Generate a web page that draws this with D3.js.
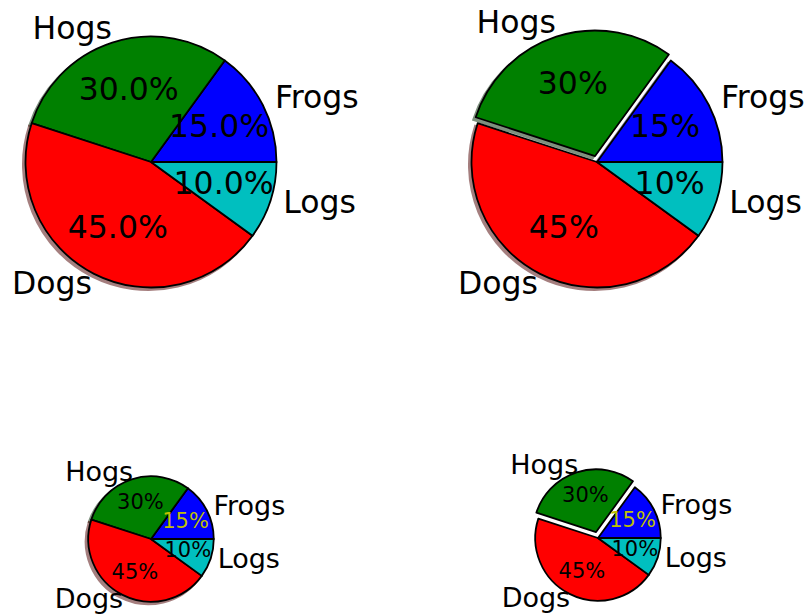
<!DOCTYPE html>
<html>
<head>
<meta charset="utf-8">
<script src="https://cdn.jsdelivr.net/npm/d3@7"></script>
<style>
  html, body { margin: 0; padding: 0; background: #fff; }
  text { font-family: "DejaVu Sans", sans-serif; }
</style>
</head>
<body>
<div id="chart"></div>
<script>
// data
var labels = ["Frogs", "Hogs", "Dogs", "Logs"];
var fracs = [15, 30, 45, 10];
var colors = ["#0000ff", "#008000", "#ff0000", "#00bfbf"];
var explodeHogs = [0, 0.05, 0, 0];
var noExplode = [0, 0, 0, 0];

// panels (layout only)
var panels = [
  {cx: 151, cy: 162, radius: 1, explode: noExplode, shadow: true, fmt: function(p){ return p.toFixed(1) + "%"; }, labelSize: 31.5, pctSize: 31.5, firstPctColor: "#000"},
  {cx: 597, cy: 162, radius: 1, explode: explodeHogs, shadow: true, fmt: function(p){ return p.toFixed(0) + "%"; }, labelSize: 31.5, pctSize: 31.5, firstPctColor: "#000"},
  {cx: 151, cy: 539, radius: 0.5, explode: noExplode, shadow: true, fmt: function(p){ return p.toFixed(0) + "%"; }, labelSize: 27, pctSize: 21, firstPctColor: "#bfbf00"},
  {cx: 598, cy: 538, radius: 0.5, explode: explodeHogs, shadow: false, fmt: function(p){ return p.toFixed(0) + "%"; }, labelSize: 27, pctSize: 21, firstPctColor: "#bfbf00"}
];

var w = 811, h = 614;

// data units -> pixels
var unit = d3.scaleLinear().domain([0, 1]).range([0, 125.5]);

var svg = d3.select("#chart").append("svg")
  .attr("width", w)
  .attr("height", h);

// counterclockwise from 3 o'clock, like matplotlib
var pie = d3.pie()
  .sort(null)
  .startAngle(Math.PI / 2)
  .endAngle(Math.PI / 2 - 2 * Math.PI);

var total = d3.sum(fracs);

panels.forEach(function(p) {
  var r = unit(p.radius);
  var arcs = pie(fracs);
  var arc = d3.arc().innerRadius(0).outerRadius(r);

  arcs.forEach(function(a, i) {
    var m = (a.startAngle + a.endAngle) / 2;
    var e = unit(p.explode[i]);
    a.ox = e * Math.sin(m);
    a.oy = -e * Math.cos(m);
    a.mid = m;
  });

  var g = svg.append("g").attr("transform", "translate(" + p.cx + "," + p.cy + ")");

  //shadows under everything
  if (p.shadow) {
    var sh = unit(0.02);
    g.selectAll("path.shadow")
      .data(arcs)
      .enter()
      .append("path")
      .attr("class", "shadow")
      .attr("d", arc)
      .attr("transform", function(d) { return "translate(" + (d.ox - sh) + "," + (d.oy + sh) + ")"; })
      .style("fill", function(d, i) { var c = d3.rgb(colors[i]); return d3.rgb(c.r * 0.3, c.g * 0.3, c.b * 0.3); })
      .style("stroke", function(d, i) { var c = d3.rgb(colors[i]); return d3.rgb(c.r * 0.3, c.g * 0.3, c.b * 0.3); })
      .style("stroke-width", 2)
      .style("opacity", 0.5);
  }

  g.selectAll("path.wedge")
    .data(arcs)
    .enter()
    .append("path")
    .attr("class", "wedge")
    .attr("d", arc)
    .attr("transform", function(d) { return "translate(" + d.ox + "," + d.oy + ")"; })
    .style("fill", function(d, i) { return colors[i]; })
    .style("stroke", "#000")
    .style("stroke-width", 1.8)
    .style("stroke-linejoin", "round");

  // labels at 1.1 * r
  g.selectAll("text.label")
    .data(arcs)
    .enter()
    .append("text")
    .attr("class", "label")
    .attr("x", function(d) {
      var x = d.ox + 1.1 * r * Math.sin(d.mid);
      return Math.sin(d.mid) > 0 ? x + 1 : x + 3.5;
    })
    .attr("y", function(d) { return d.oy - 1.1 * r * Math.cos(d.mid); })
    .attr("dy", "0.27em")
    .attr("text-anchor", function(d) { return Math.sin(d.mid) > 0 ? "start" : "end"; })
    .style("font-size", p.labelSize + "px")
    .text(function(d, i) { return labels[i]; });

  // percentages at 0.6 * r
  g.selectAll("text.pct")
    .data(arcs)
    .enter()
    .append("text")
    .attr("class", "pct")
    .attr("x", function(d) { return d.ox + 0.6 * r * Math.sin(d.mid) + 1; })
    .attr("y", function(d) { return d.oy - 0.6 * r * Math.cos(d.mid); })
    .attr("dy", "0.29em")
    .attr("text-anchor", "middle")
    .style("font-size", p.pctSize + "px")
    .style("fill", function(d, i) { return i === 0 ? p.firstPctColor : "#000"; })
    .text(function(d) { return p.fmt(100 * d.value / total); });
});
</script>
</body>
</html>
